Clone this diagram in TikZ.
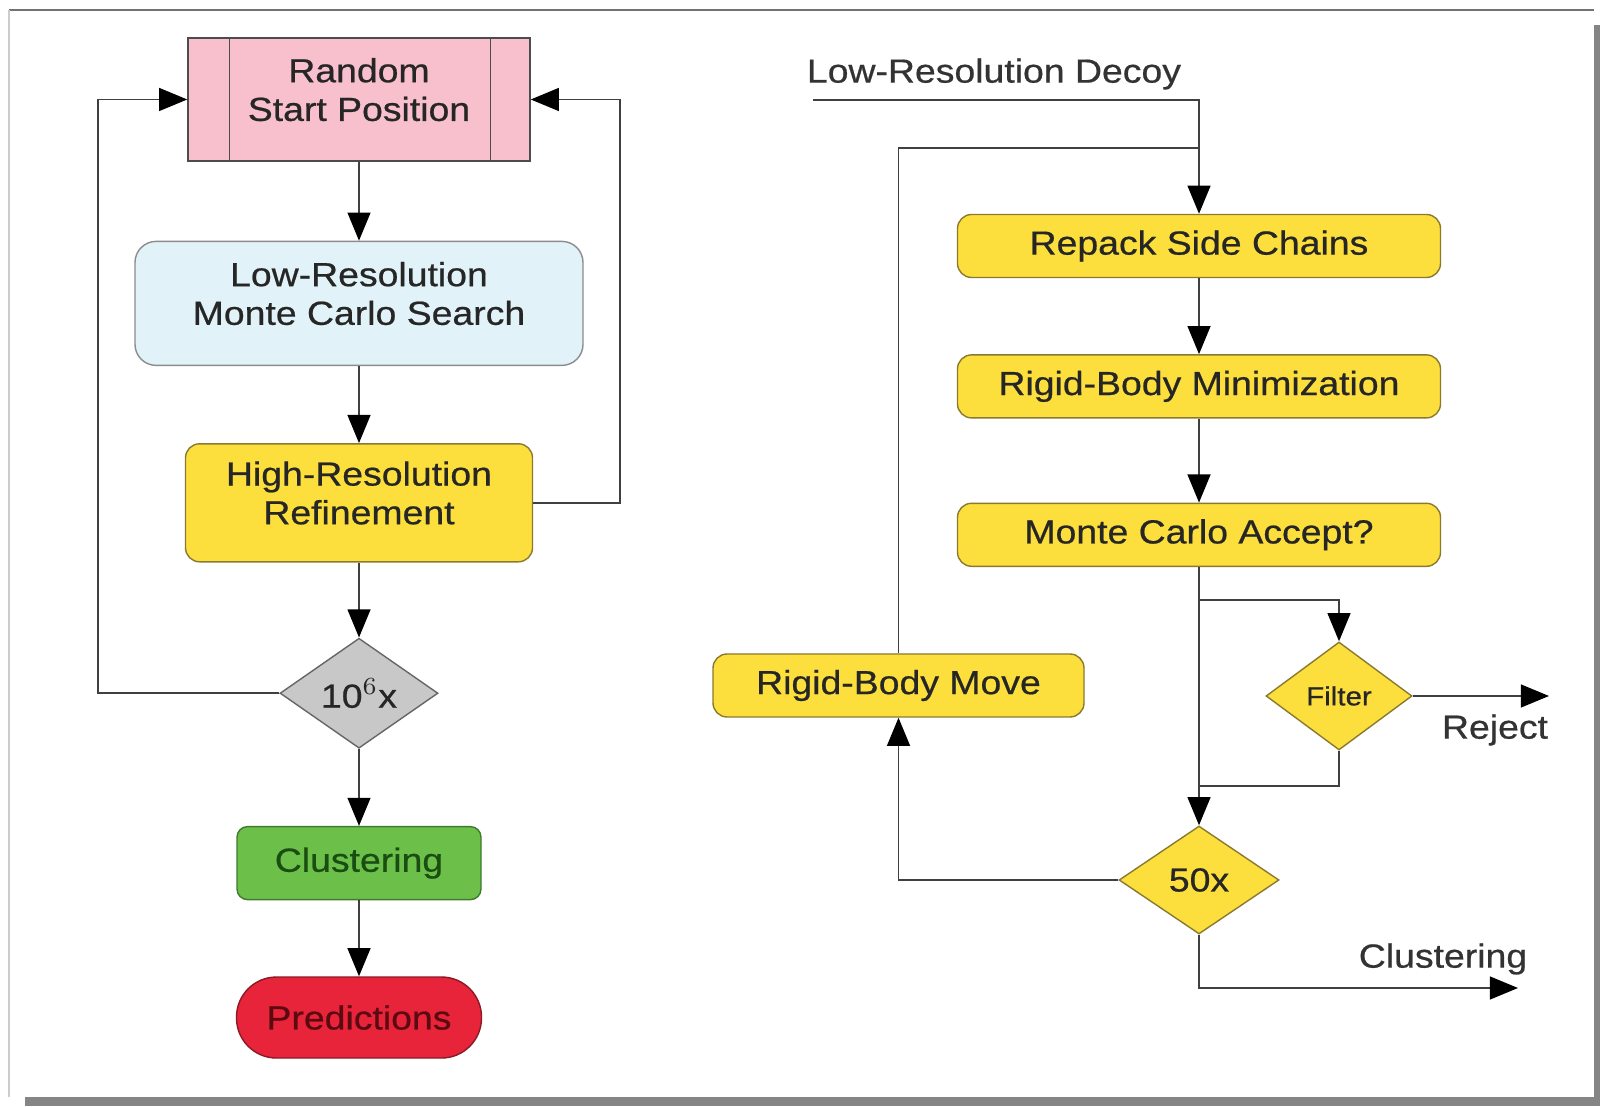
\documentclass[tikz,border=0pt]{standalone}
\usepackage{fontspec}
\setmainfont{Liberation Sans}[FakeStretch=1.12,FakeBold=0.6]
\usepackage{xcolor}
\usetikzlibrary{arrows.meta,positioning,shapes.geometric}

\definecolor{pinkfill}{HTML}{F8BFCD}
\definecolor{bluefill}{HTML}{E1F2F8}
\definecolor{yellowfill}{HTML}{FCDF3C}
\definecolor{yellowline}{HTML}{8A7A30}
\definecolor{greyfill}{HTML}{C8C8C8}
\definecolor{greenfill}{HTML}{6CC04A}
\definecolor{greenline}{HTML}{3F7A2E}
\definecolor{greentext}{HTML}{1A4D12}
\definecolor{redfill}{HTML}{E8243A}
\definecolor{redline}{HTML}{8B1A26}
\definecolor{redtext}{HTML}{5C0A12}
\definecolor{shadowgrey}{HTML}{858585}

\begin{document}
\begin{tikzpicture}[node distance=0.78cm, font=\fontsize{9.5}{11}\selectfont,
  text=black!85,
  startbox/.style={draw=black!70, fill=pinkfill, align=center, minimum width=3.42cm, minimum height=1.23cm, inner sep=2pt, text depth=0.2cm},
  searchbox/.style={draw=black!45, fill=bluefill, rounded corners=6pt, align=center, minimum width=4.48cm, minimum height=1.24cm, text depth=0.2cm},
  stepbox/.style={draw=yellowline, fill=yellowfill, rounded corners=4pt, align=center, minimum height=0.63cm},
  loopdiam/.style={diamond, draw=black!60, fill=#1, aspect=1.45, inner sep=0pt},
  clusbox/.style={draw=greenline, fill=greenfill, text=greentext, rounded corners=3pt, minimum width=2.44cm, minimum height=0.73cm},
  predbox/.style={draw=redline, fill=redfill, text=redtext, rounded corners=0.4cm, minimum width=2.45cm, minimum height=0.81cm},
  plain/.style={text=black!80},
  line/.style={draw=black!75, line width=0.5pt},
  arrow/.style={line, -{Triangle[length=8pt,width=6.5pt,color=black]}}]
\useasboundingbox (0,0) rectangle (16,11.06);
% frame and shadow
\fill[white] (0,0) rectangle (16,11.06);
\draw[black!55, line width=0.6pt] (0.09,10.96) -- (15.94,10.96);
\draw[black!20] (0.09,0.09) -- (0.09,10.96);
\fill[shadowgrey] (15.94,0) rectangle (16,10.81);
\fill[shadowgrey] (0.25,0) rectangle (16,0.09);

% docking protocol
\node[startbox] (start) at (3.59,10.065) {Random\\Start Position};
\draw[black!70] ([xshift=0.42cm]start.north west) -- ([xshift=0.42cm]start.south west);
\draw[black!70] ([xshift=-0.4cm]start.north east) -- ([xshift=-0.4cm]start.south east);
\node[searchbox, below=0.79cm of start] (lowres) {Low-Resolution\\Monte Carlo Search};
\node[stepbox, below=0.77cm of lowres, minimum width=3.47cm, minimum height=1.18cm, text depth=0.2cm] (highres) {High-Resolution\\Refinement};
\node[loopdiam=greyfill, below=0.75cm of highres, minimum width=1.58cm, minimum height=1.1cm] (rep) {10$^{6}$x};
\node[clusbox, below=0.77cm of rep] (clus) {Clustering};
\node[predbox, below=0.76cm of clus] (pred) {Predictions};

\draw[arrow] (start) -- (lowres);
\draw[arrow] (lowres) -- (highres);
\draw[arrow] (highres) -- (rep);
\draw[arrow] (rep) -- (clus);
\draw[arrow] (clus) -- (pred);
\draw[arrow] (rep.west) -- ++(-1.81,0) |- (start.west);
\draw[arrow] (highres.east) -- ++(0.87,0) |- (start.east);

% high-resolution refinement
\node[plain] (decoy) at (9.94,10.32) {Low-Resolution Decoy};
\coordinate (decin) at (8.13,10.06);
\node[stepbox, minimum width=4.83cm] (repack) at (11.99,8.60) {Repack Side Chains};
\node[stepbox, minimum width=4.83cm, below=0.76cm of repack] (rbmin) {Rigid-Body Minimization};
\node[stepbox, minimum width=4.83cm, below=0.84cm of rbmin] (mcacc) {Monte Carlo Accept?};
\node[loopdiam=yellowfill, draw=yellowline, minimum width=1.46cm, minimum height=1.08cm, font=\fontsize{7.5}{9}\selectfont] (filter) at (13.39,4.10) {Filter};
\node[loopdiam=yellowfill, draw=yellowline, minimum width=1.6cm, minimum height=1.08cm] (fifty) at (11.99,2.26) {50x};
\node[stepbox, minimum width=3.71cm] (move) at (8.985,4.205) {Rigid-Body Move};
\node[plain] (reject) at (14.95,3.76) {Reject};
\node[plain] (clusout) at (14.43,1.47) {Clustering};

\coordinate (join) at (11.99,9.58);
\coordinate (split) at (11.99,5.06);
\coordinate (merge) at (11.99,3.20);
\coordinate (rejend) at (15.49,4.10);
\coordinate (clusend) at (15.18,1.18);

\draw[arrow] (decin) -| (repack);
\draw[line] (move) |- (join);
\draw[arrow] (repack) -- (rbmin);
\draw[arrow] (rbmin) -- (mcacc);
\draw[arrow] (mcacc) -- (fifty);
\draw[arrow] (split) -| (filter);
\draw[line] (filter) |- (merge);
\draw[arrow] (filter) -- (rejend);
\draw[arrow] (fifty) -| (move);
\draw[arrow] (fifty) |- (clusend);
\end{tikzpicture}
\end{document}
